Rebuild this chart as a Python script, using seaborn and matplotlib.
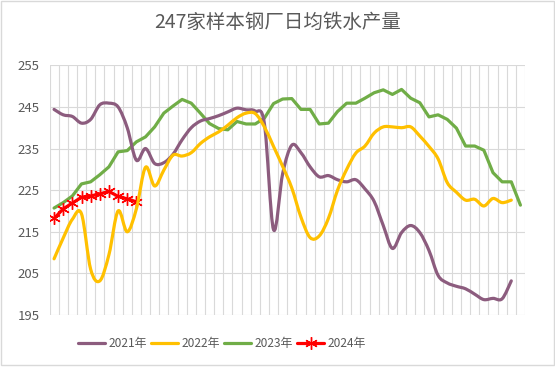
import numpy as np
import pandas as pd
import seaborn as sns
import matplotlib
matplotlib.use("Agg")
import matplotlib.pyplot as plt
from matplotlib.patches import Rectangle, PathPatch
from matplotlib.path import Path

title = "247家样本钢厂日均铁水产量"
series_names = ["2021年", "2022年", "2023年", "2024年"]

y2021 = [244.4, 243.1, 242.7, 241.1, 242.0, 245.5, 245.9, 245.0, 240.0, 232.2,
         235.0, 231.4, 231.6, 233.6, 237.1, 240.0, 241.6, 242.2, 242.9, 243.8,
         244.7, 244.3, 244.0, 241.0, 215.5, 229.0, 235.8, 234.0, 230.6, 228.2,
         228.5, 227.5, 227.0, 227.5, 225.3, 222.3, 216.5, 211.0, 214.8, 216.5,
         214.8, 210.5, 204.5, 202.7, 201.9, 201.3, 200.0, 198.7, 199.0, 198.9,
         203.2]
y2022 = [208.5, 213.5, 218.0, 219.3, 206.0, 203.2, 209.5, 220.0, 215.0, 220.5,
         230.5, 226.0, 229.8, 233.4, 233.2, 234.0, 236.2, 237.8, 239.0, 240.6,
         242.4, 243.5, 243.4, 240.2, 235.5, 230.7, 225.5, 218.5, 213.6, 214.0,
         218.2, 225.0, 230.0, 233.9, 235.6, 238.7, 240.2, 240.2, 240.0, 240.2,
         238.0, 235.5, 232.5, 226.8, 224.5, 222.6, 222.8, 221.2, 223.0, 222.0,
         222.6]
y2023 = [220.7, 222.0, 223.6, 226.5, 227.0, 228.7, 230.6, 234.2, 234.5, 236.6,
         237.8, 240.2, 243.5, 245.2, 246.8, 245.9, 243.5, 241.0, 239.8, 239.5,
         241.5, 240.9, 240.9, 242.3, 245.8, 246.9, 247.0, 244.4, 244.4, 240.9,
         241.1, 243.9, 245.9, 245.9, 247.1, 248.4, 249.1, 248.0, 249.2, 247.1,
         246.0, 242.6, 243.1, 242.0, 239.9, 235.6, 235.6, 234.6, 229.2, 227.0,
         227.0, 221.4]
y2024 = [218.2, 220.5, 221.9, 223.3, 223.6, 224.1, 224.7, 223.5, 222.9, 222.2]

y_ticks = [195, 205, 215, 225, 235, 245, 255]
n_weeks = 52
smooth_series = ["2021年", "2022年"]

colors = {"2021年": "#8C5C7E", "2022年": "#FFC000", "2023年": "#70AD47", "2024年": "#FF0000"}

rows = []
for name, vals in zip(series_names, [y2021, y2022, y2023, y2024]):
    for i, v in enumerate(vals):
        rows.append({"week": i, "value": v, "year": name})
df = pd.DataFrame(rows)

sns.set_theme(style="white")
plt.rcParams["font.family"] = ["Noto Sans CJK SC", "DejaVu Sans"]

W, H = 555, 374
fig = plt.figure(figsize=(W / 100, H / 100), dpi=100)
left, right, top, bottom = 49.5, 525.0, 65.3, 315.0
ax = fig.add_axes([left / W, 1 - bottom / H, (right - left) / W, (bottom - top) / H])

lines = {}
for name in series_names:
    sub = df[df["year"] == name]
    kw = dict(color=colors[name], linewidth=2.3, ax=ax, label=name)
    n_before = len(ax.lines)
    if name == "2024年":
        sns.lineplot(data=sub, x="week", y="value", marker=(6, 2, 0), markersize=9,
                     markeredgecolor=colors[name], markeredgewidth=1.0, **kw)
    else:
        sns.lineplot(data=sub, x="week", y="value", **kw)
    lines[name] = ax.lines[n_before]

ax.set_xlim(-0.5, n_weeks - 0.5)
ax.set_ylim(195, 255)
ax.set_yticks(y_ticks)
ax.set_yticklabels([str(t) for t in y_ticks], fontsize=9.5, color="#595959")
ax.set_xticks(np.arange(-0.5, n_weeks, 1.0))
ax.set_xticklabels([])
ax.tick_params(axis="both", length=0, pad=7)
ax.grid(True, color="#D9D9D9", linewidth=0.8)
ax.set_axisbelow(True)
ax.set_xlabel("")
ax.set_ylabel("")
for s in ax.spines.values():
    s.set_visible(False)

fig.text(277.5 / W, 1 - 22 / H, title, ha="center", va="center", fontsize=14, color="#595959")

handles, labels = ax.get_legend_handles_labels()
if ax.legend_:
    ax.legend_.remove()
fig.legend(handles, labels, loc="center", bbox_to_anchor=(222 / W, 1 - 344 / H), ncol=4,
           frameon=False, fontsize=8.6, handlelength=2.3, handletextpad=0.3,
           columnspacing=0.3, labelcolor="#595959")


def smooth_path(xs, ys):
    # Excel-style smoothed line: cubic Bezier segments through the data points
    pts = np.column_stack([xs, ys])
    verts = [pts[0]]
    codes = [Path.MOVETO]
    n = len(pts)
    for i in range(n - 1):
        p0 = pts[i - 1] if i > 0 else pts[i]
        p1 = pts[i]
        p2 = pts[i + 1]
        p3 = pts[i + 2] if i + 2 < n else pts[i + 1]
        c1 = p1 + (p2 - p0) / 6.0
        c2 = p2 - (p3 - p1) / 6.0
        verts += [c1, c2, p2]
        codes += [Path.CURVE4] * 3
    return Path(verts, codes)


# replace the straight polyline of the smoothed series by a Bezier rendering of the same data
for name in smooth_series:
    ln = lines[name]
    xs, ys = ln.get_xdata(), ln.get_ydata()
    patch = PathPatch(smooth_path(np.asarray(xs, float), np.asarray(ys, float)),
                      facecolor="none", edgecolor=colors[name], linewidth=2.3,
                      capstyle="round", joinstyle="round", zorder=ln.get_zorder())
    ax.add_patch(patch)
    ln.set_visible(False)

fig.patches.append(Rectangle((0.5 / W, 1 - 365 / H), 553 / W, 364.5 / H,
                             transform=fig.transFigure, fill=False,
                             edgecolor="#D9D9D9", linewidth=1.0))

fig.savefig("out.png", dpi=100)
